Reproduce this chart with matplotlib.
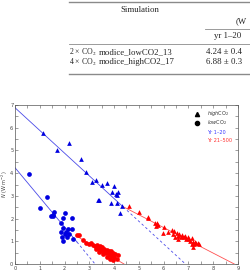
import matplotlib
matplotlib.use("Agg")
import matplotlib.pyplot as plt
from matplotlib.ticker import MultipleLocator
from matplotlib.lines import Line2D

# ---------------- data ----------------
high_early_T = [1.13, 1.71, 2.18, 2.66, 2.87, 3.12, 3.27, 3.33, 3.40, 3.51, 3.70,
                3.86, 3.91, 3.99, 4.08, 4.12, 4.15, 4.10, 4.23, 4.30]
high_early_N = [5.75, 5.03, 5.32, 4.61, 4.04, 3.63, 3.68, 2.80, 2.82, 3.47, 3.55,
                2.70, 3.17, 3.44, 3.10, 3.02, 3.15, 2.70, 2.25, 2.55]

high_late_T = [4.62, 5.00, 5.35, 5.37, 5.67, 5.75, 5.71, 5.78, 6.02, 5.98, 6.19,
               6.32, 6.36, 6.43, 6.52, 6.59, 6.63, 6.70, 6.75, 6.81, 6.86, 6.91,
               6.97, 7.02, 7.07, 7.13, 7.18, 7.21, 7.26, 7.31, 7.37, 7.19, 7.13,
               7.42, 6.57, 6.47]
high_late_N = [2.57, 2.29, 2.06, 2.02, 1.79, 1.82, 1.66, 1.71, 1.61, 1.38, 1.42,
               1.50, 1.32, 1.45, 1.35, 1.23, 1.32, 1.20, 1.28, 1.17, 1.23, 1.11,
               1.20, 1.08, 1.02, 1.14, 0.96, 0.88, 0.98, 0.91, 0.94, 0.76, 0.88,
               0.88, 1.08, 1.20]

low_early_T = [0.58, 1.01, 1.28, 1.45, 1.52, 1.55, 1.59, 1.85, 1.95, 2.03, 1.85,
               1.95, 1.91, 1.95, 2.06, 2.12, 2.08, 2.16, 2.03, 2.29, 2.29, 2.33]
low_early_N = [3.96, 2.47, 2.94, 2.13, 2.16, 2.11, 2.31, 1.79, 2.01, 2.23, 1.40,
               1.57, 1.20, 1.03, 1.43, 1.54, 1.20, 1.32, 1.32, 2.01, 1.54, 1.09]

low_late_T = [2.51, 2.59, 2.76, 2.86, 2.97, 3.05, 3.13, 3.21, 3.29, 3.34, 3.40,
              3.45, 3.51, 3.53, 3.59, 3.61, 3.67, 3.70, 3.75, 3.78, 3.83, 3.86,
              3.91, 3.94, 3.99, 4.05, 4.10, 4.15, 3.43, 3.56, 3.70, 3.83, 3.97,
              3.26, 3.37]
low_late_N = [1.26, 1.26, 1.06, 0.94, 0.88, 0.91, 0.85, 0.79, 0.85, 0.74, 0.68,
              0.79, 0.62, 0.76, 0.56, 0.68, 0.50, 0.62, 0.47, 0.59, 0.41, 0.56,
              0.35, 0.50, 0.29, 0.44, 0.23, 0.38, 0.59, 0.44, 0.32, 0.23, 0.18,
              0.68, 0.53]

# regression lines (endpoints)
high_fit1_T = [0.0, 4.37];  high_fit1_N = [6.88, 2.51]
high_fit1d_T = [4.37, 6.88]; high_fit1d_N = [2.51, 0.0]
high_fit2_T = [4.37, 8.85]; high_fit2_N = [2.52, 0.0]
low_fit1_T = [0.0, 2.50];   low_fit1_N = [4.24, 0.97]
low_fit1d_T = [2.50, 3.23]; low_fit1d_N = [0.97, 0.0]
low_fit2_T = [2.50, 4.40];  low_fit2_N = [1.22, 0.0]

x_ticks = [0, 1, 2, 3, 4, 5, 6, 7, 8, 9]
y_ticks = [0, 1, 2, 3, 4, 5, 6, 7]

# table content
tbl_rows = [("2 \u00d7 CO$_2$", "modice_lowCO2_13", "4.24 \u00b1 0.4"),
            ("4 \u00d7 CO$_2$", "modice_highCO2_17", "6.88 \u00b1 0.3")]

# ---------------- figure ----------------
W, H = 251, 270
fig = plt.figure(figsize=(W / 100, H / 100), dpi=100)

def fx(px):
    return px / W

def fy(py):
    return 1 - py / H

# table
gray = "#8a8a8a"
serif = "Liberation Serif"
tfs = 6.3
fig.add_artist(Line2D([fx(69), 1], [fy(1.5), fy(1.5)], color=gray, lw=1.0))
fig.add_artist(Line2D([fx(205), 1], [fy(29), fy(29)], color=gray, lw=0.6))
fig.add_artist(Line2D([fx(69), 1], [fy(44), fy(44)], color=gray, lw=0.6))
fig.add_artist(Line2D([fx(69), 1], [fy(74), fy(74)], color=gray, lw=1.0))
fig.text(fx(120), fy(10), "Simulation", family=serif, fontsize=tfs,
         va="center", ha="left", color="#222222")
fig.text(fx(236), fy(21.5), "(W", family=serif, fontsize=tfs,
         va="center", ha="left", color="#222222")
fig.text(fx(214), fy(36), "yr 1\u201320", family=serif, fontsize=tfs,
         va="center", ha="left", color="#222222")
for i, (a, b, c) in enumerate(tbl_rows):
    yy = fy(52 + i * 10.5)
    fig.text(fx(69), yy, a, family=serif, fontsize=5.6, va="center", ha="left",
             math_fontfamily="stix", color="#222222")
    fig.text(fx(98.5), yy, b, family=serif, fontsize=tfs, va="center", ha="left",
             color="#222222")
    fig.text(fx(206), yy, c, family=serif, fontsize=tfs, va="center", ha="left",
             color="#222222")

# axes
ax = fig.add_axes([fx(15), fy(264), (238 - 15) / W, (264 - 105) / H])
ax.set_xlim(0, 9)
ax.set_ylim(0, 7)

blue = "#0000e0"
red = "#ff0000"
lblue = "#4a4ae8"
lred = "#ff5050"

ax.plot(high_fit1_T, high_fit1_N, color=lblue, lw=0.6)
ax.plot(high_fit1d_T, high_fit1d_N, color=lblue, lw=0.6, ls=(0, (3, 3)))
ax.plot(high_fit2_T, high_fit2_N, color=lred, lw=0.6)
ax.plot(low_fit1_T, low_fit1_N, color=lblue, lw=0.6)
ax.plot(low_fit1d_T, low_fit1d_N, color=lblue, lw=0.6, ls=(0, (3, 3)))
ax.plot(low_fit2_T, low_fit2_N, color=lred, lw=0.6)

ms = 3.4
ax.plot(high_early_T, high_early_N, "^", color=blue, ms=ms, mec=blue, mew=0)
ax.plot(high_late_T, high_late_N, "^", color=red, ms=ms, mec=red, mew=0)
ax.plot(low_early_T, low_early_N, "o", color=blue, ms=ms, mec=blue, mew=0)
ax.plot(low_late_T, low_late_N, "o", color=red, ms=ms, mec=red, mew=0)

ax.set_xticks(x_ticks)
ax.set_yticks(y_ticks)
ax.xaxis.set_minor_locator(MultipleLocator(0.5))
ax.yaxis.set_minor_locator(MultipleLocator(0.5))
ax.tick_params(which="both", direction="in", top=True, right=True,
               length=2, width=0.4, color="#555555")
ax.tick_params(labelsize=3.6, labelcolor="#444444", pad=1.2)
for s in ax.spines.values():
    s.set_linewidth(0.5)
    s.set_color("#555555")

ax.set_ylabel(r"$\it{N}$ (W m$^{-2}$)", fontsize=3.6, color="#444444", labelpad=0.3)

# legend (manual, in axes fraction)
lx_m, lx_t = (197 - 15) / 223, (207 - 15) / 223
def ay(py):
    return (264 - py) / 159
ax.plot([lx_m], [ay(114)], "^", color="black", ms=3.0, transform=ax.transAxes)
ax.plot([lx_m], [ay(123)], "o", color="black", ms=3.0, transform=ax.transAxes)
lfs = 3.6
ax.text(lx_t, ay(114), r"$\it{high}$CO$_2$", fontsize=lfs, va="center",
        transform=ax.transAxes, color="#333333")
ax.text(lx_t, ay(123), r"$\it{low}$CO$_2$", fontsize=lfs, va="center",
        transform=ax.transAxes, color="#333333")
ax.text(lx_t, ay(132), "Yr 1\u201320", fontsize=lfs, va="center",
        transform=ax.transAxes, color="#3a3aff")
ax.text(lx_t, ay(141), "Yr 21\u2013500", fontsize=lfs, va="center",
        transform=ax.transAxes, color="#ff3030")

fig.savefig("out.png", dpi=100)
